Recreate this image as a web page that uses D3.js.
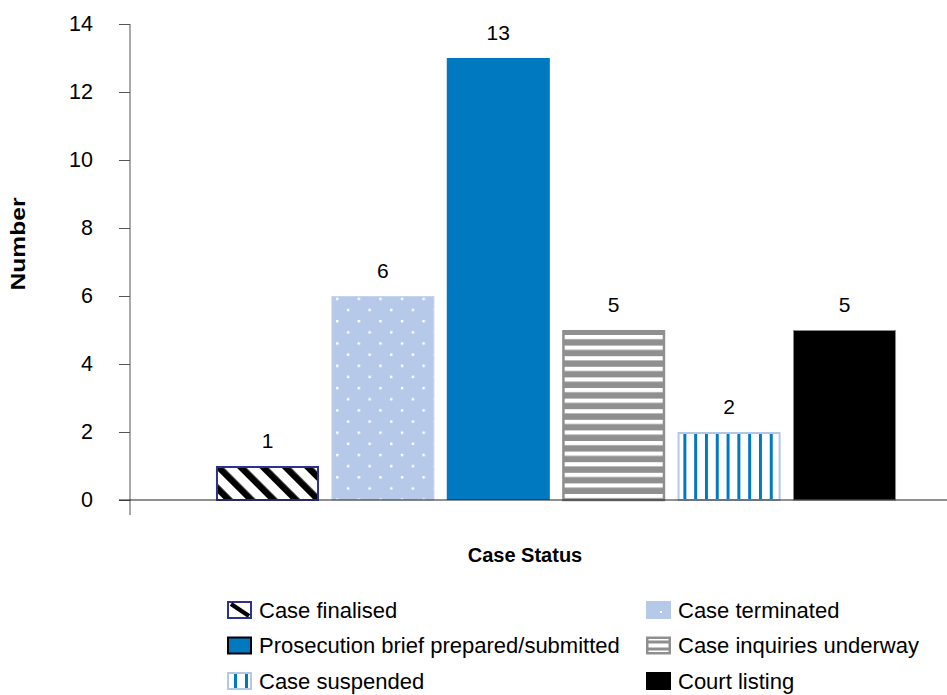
<!DOCTYPE html>
<html>
<head>
<meta charset="utf-8">
<script src="https://cdn.jsdelivr.net/npm/d3@7"></script>
<style>
  body { margin: 0; background: #fff; }
  svg { display: block; }
  text { font-family: "Liberation Sans", Arial, Helvetica, sans-serif; fill: #000; }
</style>
</head>
<body>
<svg id="chart" width="947" height="695"></svg>
<script>
// Case status counts
const categories = [
  "Case finalised",
  "Case terminated",
  "Prosecution brief prepared/submitted",
  "Case inquiries underway",
  "Case suspended",
  "Court listing"
];
const values = [1, 6, 13, 5, 2, 5];
const yTicks = [0, 2, 4, 6, 8, 10, 12, 14];
const xTitle = "Case Status";
const yTitle = "Number";

const svg = d3.select("#chart");
const defs = svg.append("defs");

const margin = { top: 24, bottom: 500, left: 130, right: 947 };
const y = d3.scaleLinear().domain([0, 14]).range([margin.bottom, margin.top]);
const x = d3.scaleBand()
  .domain(categories)
  .range([209.8, 902.2])
  .paddingInner(0.107)
  .paddingOuter(0.0535);

const BLUE = "#0079c1";
const LIGHT = "#b6c9e8";
const GREY = "#8f8f8f";
const NAVY = "#2e3192";

// Fill patterns, anchored to each bar's top-left corner
function hatch(id, ox, oy) {
  const p = defs.append("pattern").attr("id", id)
    .attr("patternUnits", "userSpaceOnUse")
    .attr("x", ox).attr("y", oy)
    .attr("width", 15.8).attr("height", 15.8)
    .attr("patternTransform", "rotate(-45)");
  p.append("rect").attr("width", 15.8).attr("height", 15.8).attr("fill", "#fff");
  p.append("rect").attr("width", 6.6).attr("height", 15.8).attr("fill", "#000");
}
function dots(id, ox, oy) {
  const p = defs.append("pattern").attr("id", id)
    .attr("patternUnits", "userSpaceOnUse")
    .attr("x", ox).attr("y", oy)
    .attr("width", 21.6).attr("height", 22.3);
  p.append("rect").attr("width", 21.6).attr("height", 22.3).attr("fill", LIGHT);
  p.append("rect").attr("x", 0).attr("y", 0).attr("width", 2.4).attr("height", 2.4).attr("fill", "#fff");
  p.append("rect").attr("x", 10.8).attr("y", 11.15).attr("width", 2.4).attr("height", 2.4).attr("fill", "#fff");
}
function hstripes(id, ox, oy) {
  const p = defs.append("pattern").attr("id", id)
    .attr("patternUnits", "userSpaceOnUse")
    .attr("x", ox).attr("y", oy)
    .attr("width", 10).attr("height", 10.6);
  p.append("rect").attr("width", 10).attr("height", 10.6).attr("fill", GREY);
  p.append("rect").attr("y", 0).attr("width", 10).attr("height", 4.2).attr("fill", "#fff");
}
function vstripes(id, ox, oy) {
  const p = defs.append("pattern").attr("id", id)
    .attr("patternUnits", "userSpaceOnUse")
    .attr("x", ox).attr("y", oy)
    .attr("width", 10.8).attr("height", 10);
  p.append("rect").attr("width", 10.8).attr("height", 10).attr("fill", "#fff");
  p.append("rect").attr("x", 0).attr("width", 3).attr("height", 10).attr("fill", BLUE);
}

const styles = [
  { make: hatch,    dx: 0,   dy: 0,   stroke: NAVY,      sw: 2 },
  { make: dots,     dx: 4.7, dy: 1.7, stroke: "#c4d4ee", sw: 1 },
  { fill: BLUE,                        stroke: BLUE,      sw: 0 },
  { make: hstripes, dx: 0,   dy: 5,   stroke: GREY,      sw: 2.5 },
  { make: vstripes, dx: 5.8, dy: 0,   stroke: "#b4c7e7", sw: 2 },
  { fill: "#000",                      stroke: "#8a8a8a", sw: 1 }
];

const data = categories.map((c, i) => ({ cat: c, value: values[i], style: styles[i], i }));

data.forEach(d => {
  if (d.style.make) {
    const id = "pat" + d.i;
    d.style.make(id, x(d.cat) + d.style.dx, y(d.value) + d.style.dy);
    d.fill = "url(#" + id + ")";
  } else {
    d.fill = d.style.fill;
  }
});

// Bars
svg.append("g").selectAll("rect")
  .data(data)
  .join("rect")
  .attr("x", d => x(d.cat) + d.style.sw / 2)
  .attr("y", d => y(d.value) + d.style.sw / 2)
  .attr("width", d => x.bandwidth() - d.style.sw)
  .attr("height", d => y(0) - y(d.value) - d.style.sw / 2)
  .attr("fill", d => d.fill)
  .attr("stroke", d => d.style.sw ? d.style.stroke : "none")
  .attr("stroke-width", d => d.style.sw);

// Value labels
svg.append("g").selectAll("text")
  .data(data)
  .join("text")
  .attr("x", d => x(d.cat) + x.bandwidth() / 2)
  .attr("y", d => y(d.value) - 18)
  .attr("text-anchor", "middle")
  .attr("font-size", 21)
  .text(d => d.value);

// Y axis
const yAxis = d3.axisLeft(y).tickValues(yTicks).tickSize(11).tickPadding(26).tickSizeOuter(0);
const gy = svg.append("g").attr("transform", `translate(${margin.left},0)`).call(yAxis);
gy.select(".domain").remove();
gy.selectAll(".tick line").attr("stroke", "#555");
gy.selectAll(".tick text").attr("font-size", 21.5).attr("font-family", "Liberation Sans, Arial, sans-serif").attr("fill", "#000");
svg.append("line")
  .attr("x1", margin.left).attr("x2", margin.left)
  .attr("y1", y(14)).attr("y2", y(0) + 15)
  .attr("stroke", "#555").attr("stroke-width", 1);

// X axis baseline
svg.append("line")
  .attr("x1", margin.left - 11).attr("x2", margin.right)
  .attr("y1", y(0)).attr("y2", y(0))
  .attr("stroke", "#222").attr("stroke-width", 1.2);

// Axis titles
svg.append("text")
  .attr("x", 525).attr("y", 562)
  .attr("text-anchor", "middle")
  .attr("font-size", 20).attr("font-weight", "bold")
  .text(xTitle);
svg.append("text")
  .attr("transform", "translate(25,244) rotate(-90)")
  .attr("text-anchor", "middle")
  .attr("font-size", 20).attr("font-weight", "bold")
  .attr("textLength", 93).attr("lengthAdjust", "spacingAndGlyphs")
  .text(yTitle);

// Legend: two columns, row-major order
const legendCols = [227, 646];
const legendRows = [610, 645.5, 681];
const sw = 25, sh = 18;
const lg = svg.append("g");
data.forEach(d => {
  const lx = legendCols[d.i % 2];
  const ly = legendRows[Math.floor(d.i / 2)];
  const g = lg.append("g").attr("transform", `translate(${lx},${ly - sh / 2})`);
  if (d.i === 0) {
    g.append("rect").attr("x", 1).attr("y", 1).attr("width", sw - 2).attr("height", sh - 2)
      .attr("fill", "#fff").attr("stroke", NAVY).attr("stroke-width", 2);
    g.append("line").attr("x1", 4).attr("y1", 3).attr("x2", sw - 3).attr("y2", sh - 3)
      .attr("stroke", "#000").attr("stroke-width", 4.5);
  } else if (d.i === 1) {
    g.append("rect").attr("width", sw).attr("height", sh).attr("fill", LIGHT);
    g.append("rect").attr("x", 14).attr("y", 10).attr("width", 2).attr("height", 2).attr("fill", "#fff");
  } else if (d.i === 2) {
    g.append("rect").attr("x", 1).attr("y", 1).attr("width", sw - 2).attr("height", sh - 2)
      .attr("fill", BLUE).attr("stroke", "#000").attr("stroke-width", 2);
  } else if (d.i === 3) {
    g.append("rect").attr("width", sw).attr("height", sh).attr("fill", GREY);
    g.append("rect").attr("x", 2.5).attr("y", 7).attr("width", sw - 5).attr("height", 4).attr("fill", "#fff");
    g.append("rect").attr("x", 2.5).attr("y", 2.5).attr("width", sw - 5).attr("height", 1.5).attr("fill", "#fff");
    g.append("rect").attr("x", 2.5).attr("y", 14).attr("width", sw - 5).attr("height", 1.5).attr("fill", "#fff");
  } else if (d.i === 4) {
    g.append("rect").attr("x", 1).attr("y", 1).attr("width", sw - 2).attr("height", sh - 2)
      .attr("fill", "#fff").attr("stroke", "#b4c7e7").attr("stroke-width", 2);
    g.append("rect").attr("x", 7).attr("y", 2).attr("width", 3).attr("height", sh - 4).attr("fill", BLUE);
    g.append("rect").attr("x", 18).attr("y", 2).attr("width", 3).attr("height", sh - 4).attr("fill", BLUE);
  } else {
    g.append("rect").attr("width", sw).attr("height", sh).attr("fill", "#000");
  }
  lg.append("text")
    .attr("x", lx + 32).attr("y", ly)
    .attr("dy", "0.36em")
    .attr("font-size", 22)
    .text(d.cat);
});
</script>
</body>
</html>
